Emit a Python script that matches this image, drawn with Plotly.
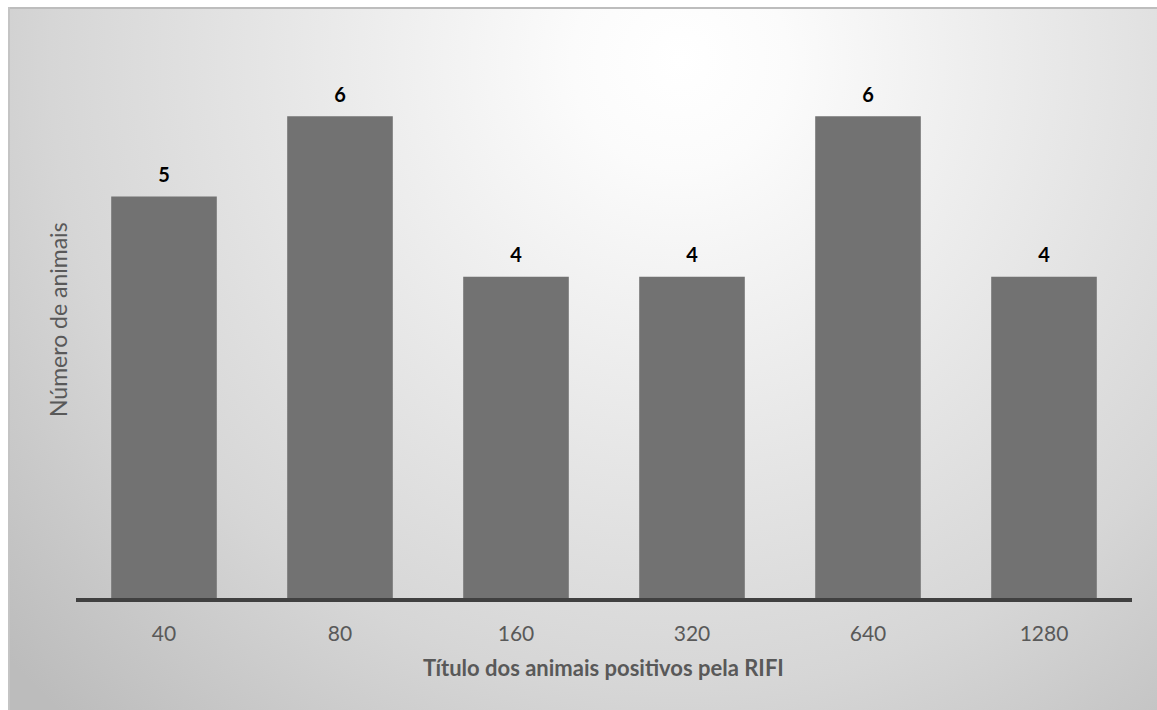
import base64
import plotly.graph_objects as go

# Antibody titres (RIFI) and number of positive animals per titre
titres = ["40", "80", "160", "320", "640", "1280"]
animals = [5, 6, 4, 4, 6, 4]

W, H = 1157, 710
L, R, T, B = 76, 25, 36, 112
plot_w = W - L - R
plot_h = H - T - B

# Soft radial-gradient card behind the chart, with a thin frame on top/left
card_x0, card_y0 = 8, 7
card_w, card_h = W - card_x0, H - card_y0
svg = f"""<svg xmlns='http://www.w3.org/2000/svg' width='{card_w}' height='{card_h}' viewBox='0 0 {card_w} {card_h}'>
<defs><radialGradient id='g' gradientUnits='userSpaceOnUse' cx='672' cy='53' r='900'>
<stop offset='0' stop-color='#ffffff'/>
<stop offset='0.12' stop-color='#fbfbfb'/>
<stop offset='0.7' stop-color='#d6d6d6'/>
<stop offset='1' stop-color='#bcbcbc'/>
</radialGradient></defs>
<rect x='0' y='0' width='{card_w}' height='{card_h}' fill='url(#g)'/>
<rect x='0' y='0' width='{card_w}' height='2' fill='#bdbdbd'/>
<rect x='0' y='0' width='2' height='{card_h}' fill='#c4c4c4'/>
</svg>"""
svg_uri = "data:image/svg+xml;base64," + base64.b64encode(svg.encode()).decode()


def px_to_paper_x(px):
    return (px - L) / plot_w


def px_to_paper_y(py):
    return (H - B - py) / plot_h


FONT = "Lato, 'Open Sans', sans-serif"

fig = go.Figure()
fig.add_trace(go.Bar(
    x=titres,
    y=animals,
    marker=dict(color="#727272", line=dict(width=0)),
    hoverinfo="x+y",
))

# Value labels above each bar (invisible marker sets the gap to the bar top)
fig.add_trace(go.Scatter(
    x=titres,
    y=animals,
    mode="markers+text",
    text=[f"<b>{v}</b>" for v in animals],
    textposition="top center",
    textfont=dict(family=FONT, size=20, color="#000000"),
    marker=dict(size=14, opacity=0),
    hoverinfo="skip",
    cliponaxis=False,
))

fig.update_layout(
    width=W, height=H,
    margin=dict(l=L, r=R, t=T, b=B),
    paper_bgcolor="#ffffff",
    plot_bgcolor="rgba(0,0,0,0)",
    bargap=0.4,
    showlegend=False,
    images=[dict(
        source=svg_uri, xref="paper", yref="paper",
        x=px_to_paper_x(card_x0), y=px_to_paper_y(card_y0),
        sizex=card_w / plot_w, sizey=card_h / plot_h,
        xanchor="left", yanchor="top", sizing="stretch", layer="below",
    )],
    xaxis=dict(
        type="category", categoryorder="array", categoryarray=titres,
        showline=True, linecolor="#404040", linewidth=4,
        showgrid=False, zeroline=False, ticks="",
        ticklabelstandoff=14,
        tickfont=dict(family=FONT, size=21, color="#595959"),
    ),
    yaxis=dict(range=[0, 7], visible=False, showgrid=False, zeroline=False),
    annotations=[
        dict(
            x=px_to_paper_x(603), y=px_to_paper_y(667), xref="paper", yref="paper",
            text="<b>Título dos animais positivos pela RIFI</b>", showarrow=False,
            xanchor="center", yanchor="middle",
            font=dict(family=FONT, size=22, color="#595959"),
        ),
        dict(
            x=px_to_paper_x(58), y=px_to_paper_y(320), xref="paper", yref="paper",
            text="Número de animais", showarrow=False, textangle=-90,
            xanchor="center", yanchor="middle",
            font=dict(family=FONT, size=23, color="#595959"),
        ),
    ],
)

fig.write_html("out.html")
